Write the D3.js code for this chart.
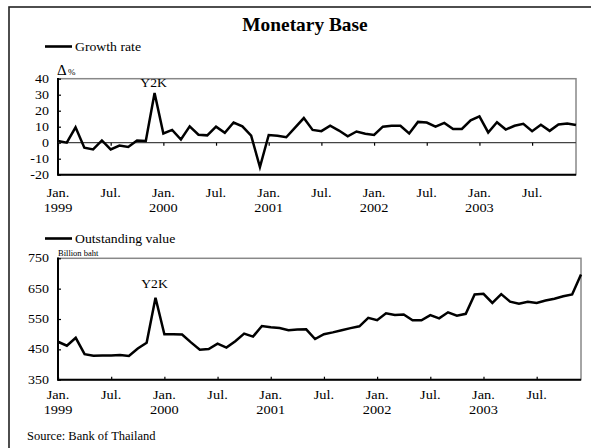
<!DOCTYPE html>
<html>
<head>
<meta charset="utf-8">
<script src="https://cdn.jsdelivr.net/npm/d3@7"></script>
<style>
  html, body { margin: 0; padding: 0; background: #fff; }
  svg { display: block; }
  text { font-family: "Liberation Serif", "Times New Roman", serif; fill: #000; }
</style>
</head>
<body>
<svg id="chart" width="591" height="448"></svg>
<script>
// ---- data (monthly, Jan 1999 - Dec 2003) ----
const months = [
  "1999-01","1999-02","1999-03","1999-04","1999-05","1999-06","1999-07","1999-08","1999-09","1999-10","1999-11","1999-12",
  "2000-01","2000-02","2000-03","2000-04","2000-05","2000-06","2000-07","2000-08","2000-09","2000-10","2000-11","2000-12",
  "2001-01","2001-02","2001-03","2001-04","2001-05","2001-06","2001-07","2001-08","2001-09","2001-10","2001-11","2001-12",
  "2002-01","2002-02","2002-03","2002-04","2002-05","2002-06","2002-07","2002-08","2002-09","2002-10","2002-11","2002-12",
  "2003-01","2003-02","2003-03","2003-04","2003-05","2003-06","2003-07","2003-08","2003-09","2003-10","2003-11","2003-12"
];
const growthRate = [
  1.0, 0.0, 9.6, -3.1, -4.2, 1.4, -4.2, -1.8, -2.7, 1.4, 1.1, 31.0,
  5.8, 8.0, 2.0, 10.2, 5.0, 4.6, 10.0, 6.2, 12.6, 10.2, 4.4, -15.2,
  4.8, 4.4, 3.4, 9.4, 15.4, 8.0, 7.2, 10.6, 7.6, 4.0, 7.0, 5.6,
  4.8, 10.0, 10.6, 10.6, 5.8, 13.0, 12.6, 10.0, 12.4, 8.6, 8.6, 14.0,
  16.4, 6.4, 12.8, 8.2, 10.6, 11.8, 7.2, 11.2, 7.4, 11.4, 12.0, 11.0
];
const outstanding = [
  475, 462, 488, 434, 429, 430, 430, 431, 428, 453, 472, 620,
  500, 500, 499, 473, 449, 451, 469, 456, 477, 502, 492, 527,
  523, 520, 513, 515, 516, 484, 500, 506, 513, 520, 526, 554,
  546, 569, 563, 565, 546, 546, 563, 552, 572, 561, 567, 631,
  633, 603, 632, 607, 600, 607, 603, 611, 617, 625, 631, 697
];
const growthTicks = [40, 30, 20, 10, 0, -10, -20];
const outstandingTicks = [750, 650, 550, 450, 350];
const tickIndices = [0, 6, 12, 18, 24, 30, 36, 42, 48, 54];
const monthLabels = ["Jan.", "Jul.", "Jan.", "Jul.", "Jan.", "Jul.", "Jan.", "Jul.", "Jan.", "Jul."];
const yearLabels  = ["1999", "", "2000", "", "2001", "", "2002", "", "2003", ""];
const titleText = "Monetary Base";
const legend1 = "Growth rate";
const legend2 = "Outstanding value";
const unit2 = "Billion baht";
const sourceText = "Source:  Bank of Thailand";

// ---- drawing ----
const svg = d3.select("#chart");

// outer frame
svg.append("rect").attr("x", 9).attr("y", 7).attr("width", 620).attr("height", 480)
  .attr("fill", "none").attr("stroke", "#222").attr("stroke-width", 1.6);

function stext(g, x, y, str, size, anchor, sx, weight) {
  const t = g.append("text")
    .attr("transform", `translate(${x},${y}) scale(${sx || 1},1)`)
    .attr("text-anchor", anchor || "start")
    .attr("font-size", size)
    .text(str);
  if (weight) t.attr("font-weight", weight);
  return t;
}

// title
stext(svg, 305, 31, titleText, 19, "middle", 1.02, "bold");

function panel(cfg) {
  const x = d3.scaleLinear().domain([0, months.length - 1]).range([cfg.left, cfg.right]);
  const y = d3.scaleLinear().domain(cfg.domain).range([cfg.bottom, cfg.top]);
  const g = svg.append("g");

  // legend
  g.append("line").attr("x1", 45).attr("x2", 72).attr("y1", cfg.legendY).attr("y2", cfg.legendY)
    .attr("stroke", "#000").attr("stroke-width", 2.6);
  stext(g, 75, cfg.legendY + 4.5, cfg.legend, 12.5, "start", 1.1);

  // plot area border (grey)
  g.append("rect").attr("x", cfg.left).attr("y", cfg.top)
    .attr("width", cfg.right - cfg.left).attr("height", cfg.bottom - cfg.top)
    .attr("fill", "none").attr("stroke", "#888").attr("stroke-width", 1.5);

  // y axis (inner ticks)
  const yAxis = d3.axisRight(y).tickValues(cfg.yTicks).tickSize(3).tickFormat("");
  const ya = g.append("g").attr("transform", `translate(${cfg.left},0)`).call(yAxis);
  ya.select(".domain").remove();
  ya.selectAll(".tick line").attr("stroke", "#000").attr("stroke-width", 1.2);
  g.append("line").attr("x1", cfg.left).attr("x2", cfg.left)
    .attr("y1", cfg.top - 0.8).attr("y2", cfg.bottom + 1)
    .attr("stroke", "#000").attr("stroke-width", 2);
  cfg.yTicks.forEach(v => {
    stext(g, cfg.left - 9, y(v) + 4, (v < 0 ? "-" : "") + Math.abs(v), 12.5, "end", 1.12);
  });

  // x axis line at crossing value
  const crossY = y(cfg.cross);
  if (cfg.cross !== cfg.domain[0]) {
    g.append("line").attr("x1", cfg.left).attr("x2", cfg.right).attr("y1", crossY).attr("y2", crossY)
      .attr("stroke", "#444").attr("stroke-width", 1.2);
  }
  g.append("line").attr("x1", cfg.left).attr("x2", cfg.right).attr("y1", cfg.bottom).attr("y2", cfg.bottom)
    .attr("stroke", "#000").attr("stroke-width", 2);

  const xAxis = (cfg.cross !== cfg.domain[0] ? d3.axisBottom(x) : d3.axisTop(x))
    .tickValues(tickIndices).tickSize(3).tickFormat("");
  const xa = g.append("g").attr("transform", `translate(0,${crossY})`).call(xAxis);
  xa.select(".domain").remove();
  xa.selectAll(".tick line").attr("stroke", "#000").attr("stroke-width", 1.2);

  // x labels
  tickIndices.forEach((idx, k) => {
    stext(g, x(idx), cfg.monthY, monthLabels[k], 12.5, "middle", 1.15);
    if (yearLabels[k]) stext(g, x(idx), cfg.monthY + 15, yearLabels[k], 12.5, "middle", 1.15);
  });

  // data line
  const line = d3.line().x((d, i) => x(i)).y(d => y(d));
  g.append("path").datum(cfg.values).attr("d", line)
    .attr("fill", "none").attr("stroke", "#000").attr("stroke-width", 2.5)
    .attr("stroke-linejoin", "miter");

  // Y2K annotation
  stext(g, x(11) - 1, cfg.y2kY, "Y2K", 13, "middle", 1.05);
  return { x, y, g };
}

const p1 = panel({
  left: 58, right: 576, top: 78.7, bottom: 174.7,
  domain: [-20, 40], cross: 0, yTicks: growthTicks, values: growthRate,
  legend: legend1, legendY: 46.5, monthY: 197, y2kY: 87
});
// Δ% unit label
stext(p1.g, 57, 74.5, "Δ", 15, "start", 1.0);
stext(p1.g, 68, 74.5, "%", 9, "start", 1.0);

const p2 = panel({
  left: 58, right: 581, top: 258.3, bottom: 379.7,
  domain: [350, 750], cross: 350, yTicks: outstandingTicks, values: outstanding,
  legend: legend2, legendY: 238.5, monthY: 399, y2kY: 288
});
stext(p2.g, 58, 255.5, unit2, 8.5, "start", 1.0).style("fill", "#000");

// source
stext(svg, 27, 440, sourceText, 12.5, "start", 1.0);
</script>
</body>
</html>
